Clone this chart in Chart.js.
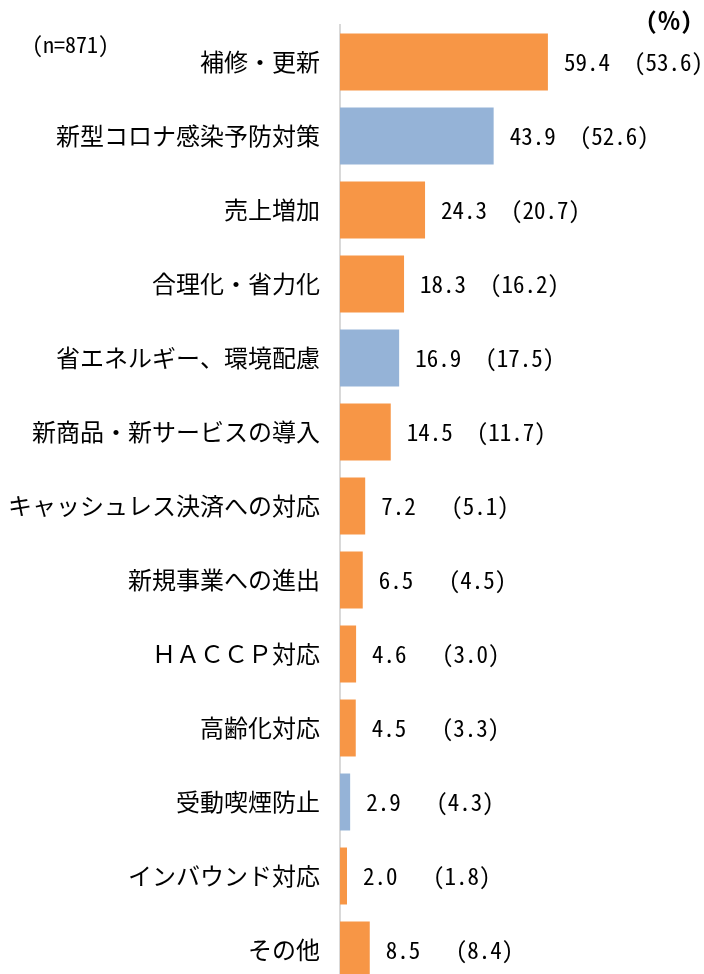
<!DOCTYPE html>
<html>
<head>
<meta charset="utf-8">
<script src="https://cdn.jsdelivr.net/npm/chart.js@4/dist/chart.umd.min.js"></script>
<style>
  html, body { margin: 0; padding: 0; background: #fff; overflow: hidden; }
  #wrap { width: 704px; height: 1000px; position: relative; }
</style>
</head>
<body>
<div id="wrap"><canvas id="c" width="704" height="1000"></canvas></div>
<script>
const categories = [
  "補修・更新",
  "新型コロナ感染予防対策",
  "売上増加",
  "合理化・省力化",
  "省エネルギー、環境配慮",
  "新商品・新サービスの導入",
  "キャッシュレス決済への対応",
  "新規事業への進出",
  "ＨＡＣＣＰ対応",
  "高齢化対応",
  "受動喫煙防止",
  "インバウンド対応",
  "その他"
];
const currentValues = [59.4, 43.9, 24.3, 18.3, 16.9, 14.5, 7.2, 6.5, 4.6, 4.5, 2.9, 2.0, 8.5];
const previousValues = [53.6, 52.6, 20.7, 16.2, 17.5, 11.7, 5.1, 4.5, 3.0, 3.3, 4.3, 1.8, 8.4];
const highlightedCategories = ["新型コロナ感染予防対策", "省エネルギー、環境配慮", "受動喫煙防止"];
const sampleNote = "(n=871)";
const unitNote = "(％)";

const ORANGE = "#F79646";
const BLUE = "#95B3D7";
const FONT = '"Noto Sans Mono CJK JP", "Noto Sans CJK JP", sans-serif';

const labelPlugin = {
  id: "valueLabels",
  afterDatasetsDraw(chart) {
    const ctx = chart.ctx;
    const meta = chart.getDatasetMeta(0);
    ctx.save();
    ctx.fillStyle = "#000";
    ctx.textBaseline = "middle";
    ctx.textAlign = "left";
    ctx.font = "23px " + FONT;
    meta.data.forEach((bar, i) => {
      ctx.fillText(currentValues[i].toFixed(1), bar.x + 16, bar.y);
      ctx.fillText("(" + previousValues[i].toFixed(1) + ")", bar.x + 86, bar.y);
    });
    ctx.font = "22px " + FONT;
    ctx.fillText(sampleNote, 32, 45);
    ctx.font = "bold 23px " + FONT;
    ctx.fillText(unitNote, 646, 20);
    ctx.restore();
  }
};

new Chart(document.getElementById("c"), {
  type: "bar",
  data: {
    labels: categories,
    datasets: [{
      data: currentValues,
      backgroundColor: categories.map(c => highlightedCategories.includes(c) ? BLUE : ORANGE),
      borderWidth: 0,
      barPercentage: 0.77,
      categoryPercentage: 1.0
    }]
  },
  options: {
    indexAxis: "y",
    responsive: false,
    animation: false,
    layout: { padding: { top: 25, bottom: 13, left: 0, right: 14 } },
    plugins: {
      legend: { display: false },
      tooltip: { enabled: false }
    },
    scales: {
      x: { display: false, min: 0, max: 100 },
      y: {
        grid: { display: false, drawTicks: false },
        border: { display: true, color: "#d9d9d9", width: 2 },
        ticks: {
          autoSkip: false,
          padding: 20,
          color: "#000",
          font: { family: FONT, size: 24 }
        },
        afterFit(scale) {
          scale.width = 340;
          scale.paddingTop = 0;
          scale.paddingBottom = 0;
        }
      }
    }
  },
  plugins: [labelPlugin]
});
</script>
</body>
</html>
